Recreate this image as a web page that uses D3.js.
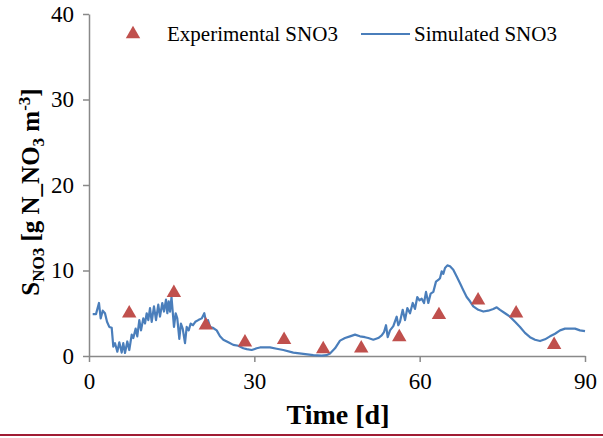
<!DOCTYPE html>
<html><head><meta charset="utf-8">
<script src="https://cdn.jsdelivr.net/npm/d3@7"></script>
<style>body{margin:0;background:#fff}svg{display:block}</style>
</head><body>
<script>
const xTicks = [0, 30, 60, 90];
const yTicks = [0, 10, 20, 30, 40];
const expTime = [7.3, 15.4, 21.2, 28.3, 35.4, 42.5, 49.4, 56.3, 63.5, 70.6, 77.5, 84.4];
const expValue = [5.0, 7.4, 3.6, 1.6, 1.9, 0.8, 0.9, 2.2, 4.8, 6.5, 5.0, 1.3];
const simTime = [0.67,1.27,1.81,2.12,2.49,2.90,3.27,3.68,4.12,4.41,4.72,5.14,5.50,5.93,6.22,6.53,6.95,7.31,7.75,8.04,8.47,8.76,9.13,9.44,9.85,10.16,10.47,10.76,11.07,11.38,11.79,12.16,12.57,12.88,13.30,13.61,13.97,14.21,14.46,14.70,14.97,15.42,15.73,16.02,16.39,16.68,17.00,17.42,17.73,18.09,18.45,18.87,19.29,19.83,20.45,20.92,21.23,21.59,21.96,22.45,23.17,23.77,24.37,25.28,26.18,27.09,28.00,28.62,29.52,30.43,31.03,32.84,34.06,35.26,37.07,38.89,40.70,42.22,43.13,43.73,44.64,45.55,46.45,47.36,48.27,49.17,50.08,50.68,51.59,52.49,53.11,53.53,53.89,54.20,54.62,55.22,55.83,56.12,56.43,56.92,57.34,57.76,58.25,58.74,59.15,59.57,59.97,60.37,60.79,61.15,61.57,62.00,62.48,62.96,63.38,63.69,64.00,64.29,64.60,65.02,65.51,66.10,66.72,67.32,67.92,68.53,69.13,69.73,70.64,71.55,72.45,73.36,73.98,74.58,75.49,76.39,77.30,78.21,79.11,80.02,80.93,81.84,82.74,83.65,84.56,85.47,86.37,87.28,88.19,89.09,90.0];
const simValue = [4.9,4.9,6.2,4.4,5.3,5.0,4.0,3.4,3.3,1.1,1.5,0.5,1.6,0.4,1.5,0.35,1.7,0.7,2.5,2.1,3.2,2.3,4.2,3.0,4.4,3.8,5.0,4.2,5.6,4.0,5.8,4.2,6.0,4.6,6.2,5.2,6.6,5.0,6.4,5.2,6.9,3.4,5.0,4.4,2.0,3.8,3.2,1.5,3.4,3.0,3.8,3.6,4.0,4.2,4.4,5.0,4.0,4.2,3.4,3.3,3.0,2.3,1.9,1.6,1.3,1.2,0.9,0.8,0.7,0.9,1.0,1.0,0.85,0.7,0.4,0.25,0.1,0.05,0.1,0.3,0.9,1.8,2.1,2.3,2.5,2.3,2.2,2.1,1.9,2.1,2.4,2.8,3.6,2.2,3.0,3.5,4.6,3.6,4.0,5.4,4.2,5.6,5.0,6.2,5.5,6.9,6.5,6.7,6.2,7.5,6.2,7.3,7.5,8.7,8.9,9.1,9.9,9.6,10.3,10.6,10.5,10.1,9.3,8.5,7.7,6.9,6.4,5.8,5.4,5.2,5.3,5.5,5.7,5.4,5.0,4.6,4.0,3.4,2.7,2.2,1.9,1.75,1.95,2.3,2.6,3.0,3.2,3.2,3.2,3.0,2.9];

const W = 603, H = 438;
const svg = d3.select("body").append("svg").attr("width", W).attr("height", H);
const x = d3.scaleLinear().domain([0, 90]).range([89, 585]);
const y = d3.scaleLinear().domain([0, 40]).range([356, 14]);
const axisColor = "#898989";
const font = "'Liberation Serif','Times New Roman',serif";

// axes
const gx = svg.append("g").attr("transform", "translate(0,356)")
  .call(d3.axisBottom(x).tickValues(xTicks).tickSize(6).tickSizeOuter(0).tickPadding(11));
const gy = svg.append("g").attr("transform", "translate(89,0)")
  .call(d3.axisLeft(y).tickValues(yTicks).tickSize(6).tickSizeOuter(0).tickPadding(9));
[gx, gy].forEach(g => {
  g.select(".domain").attr("stroke", axisColor).attr("stroke-width", 1.5);
  g.selectAll(".tick line").attr("stroke", axisColor).attr("stroke-width", 1.5);
  g.selectAll(".tick text").attr("fill", "#000").style("font-family", font).style("font-size", "23px");
});

// simulated line
const simData = simTime.map((t, i) => ({t, v: simValue[i]}));
svg.append("path").datum(simData)
  .attr("fill", "none").attr("stroke", "#4a7ebb").attr("stroke-width", 2.2).attr("stroke-linejoin", "round")
  .attr("d", d3.line().x(d => x(d.t)).y(d => y(d.v)));

// experimental triangles
const tri = d3.symbol().type(d3.symbolTriangle).size(90);
const expData = expTime.map((t, i) => ({t, v: expValue[i]}));
svg.selectAll(".exp").data(expData).enter().append("path")
  .attr("d", tri).attr("fill", "#c0504d")
  .attr("transform", d => `translate(${x(d.t)},${y(d.v)})`);

// legend
svg.append("path").attr("d", tri).attr("fill", "#c0504d").attr("transform", "translate(133,34)");
svg.append("text").attr("x", 167).attr("y", 41).text("Experimental SNO3")
  .style("font-family", font).style("font-size", "21px");
svg.append("line").attr("x1", 361).attr("x2", 410).attr("y1", 34).attr("y2", 34)
  .attr("stroke", "#4a7ebb").attr("stroke-width", 2);
svg.append("text").attr("x", 414).attr("y", 41).text("Simulated SNO3")
  .style("font-family", font).style("font-size", "21px");

// axis titles
svg.append("text").attr("x", 338).attr("y", 424).attr("text-anchor", "middle")
  .style("font-family", font).style("font-size", "28px").style("font-weight", "bold").text("Time [d]");
const yl = svg.append("text").attr("transform", "translate(39,192) rotate(-90)").attr("text-anchor", "middle")
  .style("font-family", font).style("font-size", "25px").style("font-weight", "bold");
yl.append("tspan").text("S");
yl.append("tspan").attr("dy", 5).style("font-size", "17px").text("NO3");
yl.append("tspan").attr("dy", -5).text(" [g N_NO");
yl.append("tspan").attr("dy", 5).style("font-size", "17px").text("3");
yl.append("tspan").attr("dy", -5).text(" m");
yl.append("tspan").attr("dy", -9).style("font-size", "17px").text("-3");
yl.append("tspan").attr("dy", 9).text("]");

// bottom rule
svg.append("line").attr("x1", 0).attr("x2", W).attr("y1", 435).attr("y2", 435)
  .attr("stroke", "#a01c34").attr("stroke-width", 2);
</script>
</body></html>
